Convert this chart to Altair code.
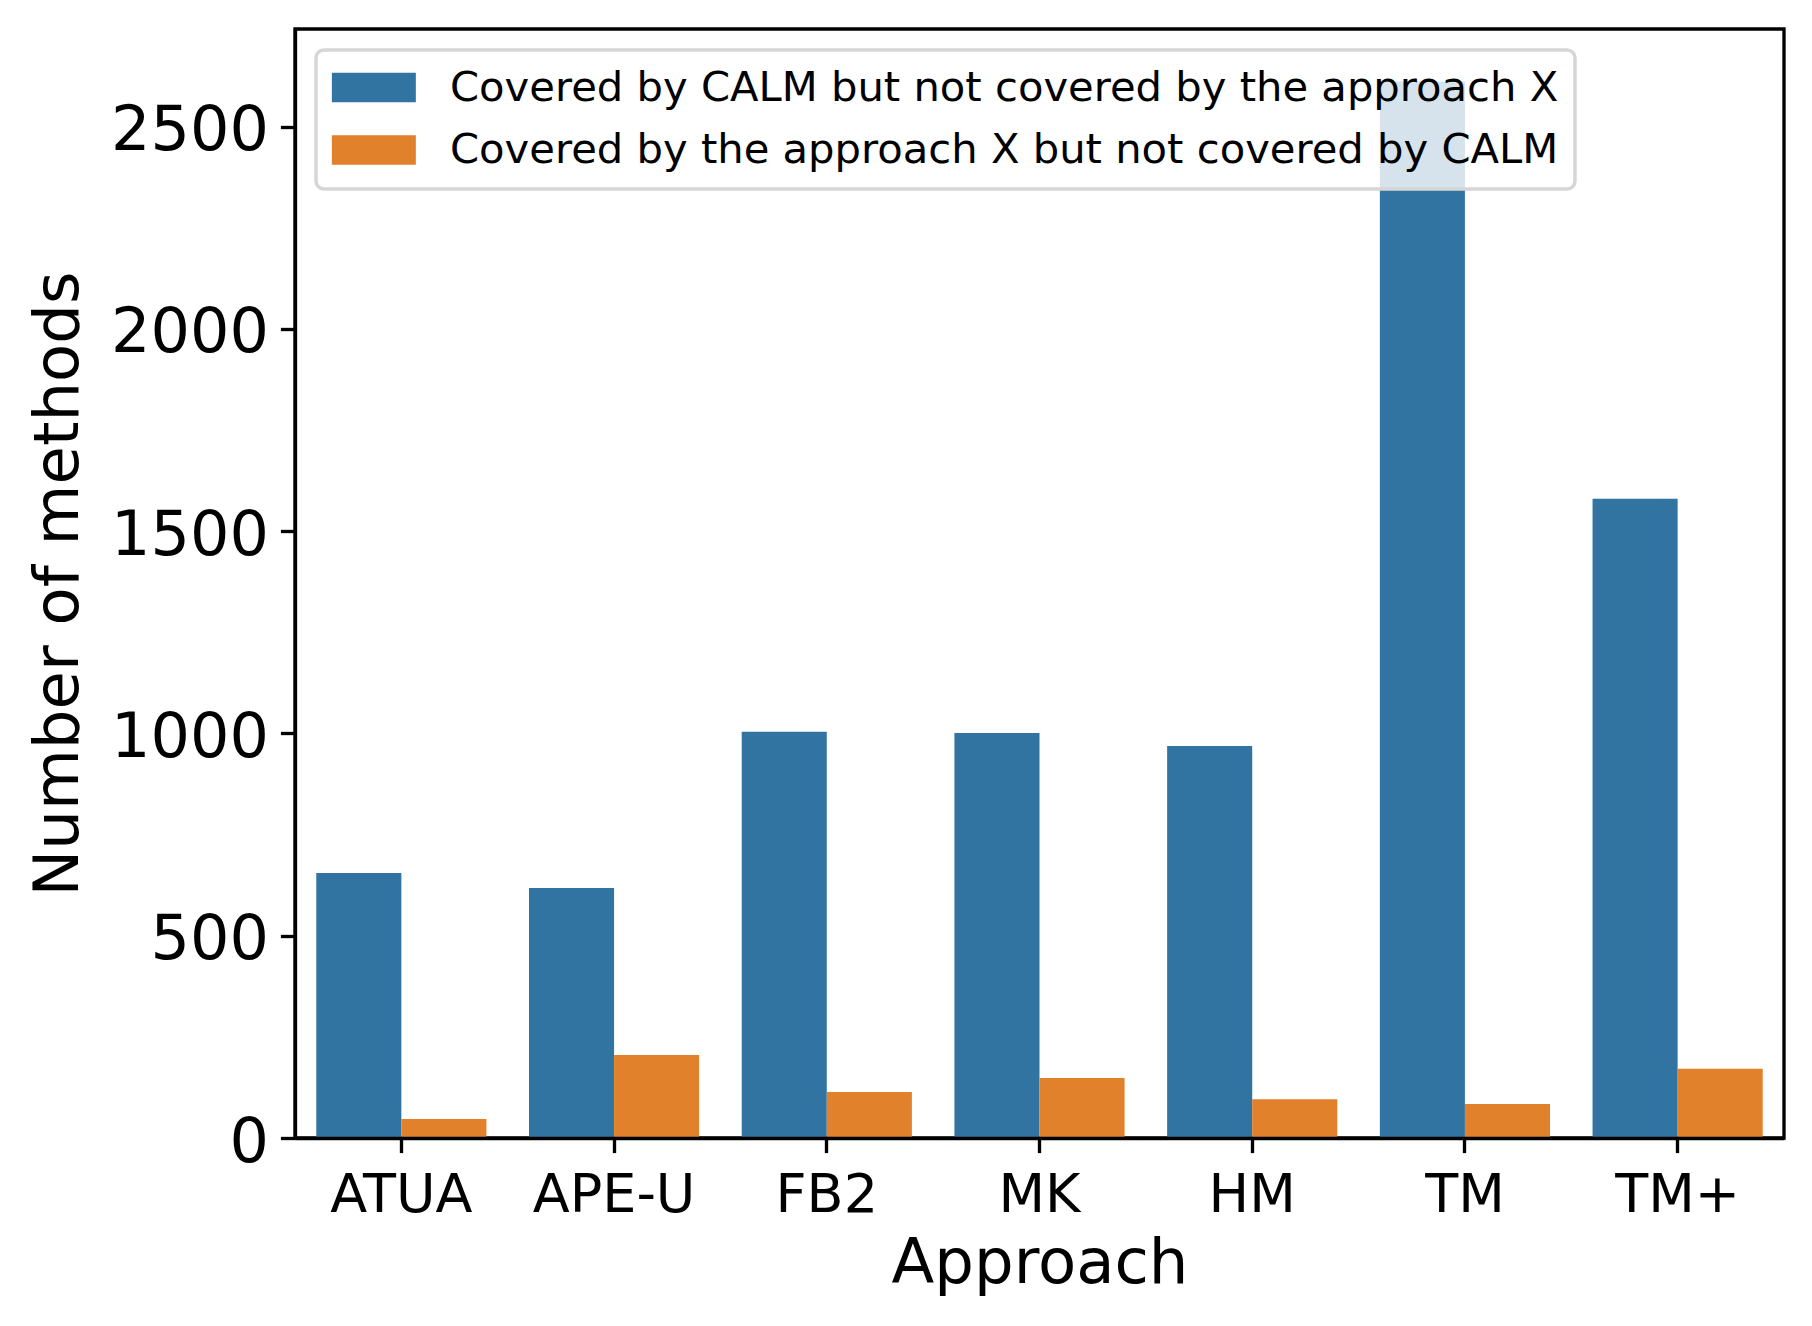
import altair as alt
import pandas as pd

# ---- data ----
approaches = ["ATUA", "APE-U", "FB2", "MK", "HM", "TM", "TM+"]
calm_not_x = [655, 618, 1004, 1001, 969, 2611, 1580]
x_not_calm = [47, 205, 114, 148, 96, 84, 171]
series = [
    "Covered by CALM but not covered by the approach X",
    "Covered by the approach X but not covered by CALM",
]
colors = ["#3274a1", "#e1812c"]
y_ticks = [0, 500, 1000, 1500, 2000, 2500]
y_max = 2741

rows = []
for a, v1, v2 in zip(approaches, calm_not_x, x_not_calm):
    rows.append({"Approach": a, "Series": series[0], "Value": v1})
    rows.append({"Approach": a, "Series": series[1], "Value": v2})
df = pd.DataFrame(rows)

FONT = "DejaVu Sans"
W, H = 1489, 1109
SPINE = 3.33

chart = (
    alt.Chart(df)
    .mark_bar()
    .encode(
        x=alt.X(
            "Approach:N",
            sort=approaches,
            title="Approach",
            scale=alt.Scale(paddingInner=0.2, paddingOuter=0.1),
            axis=alt.Axis(
                labelAngle=0,
                labelFont=FONT,
                titleFont=FONT,
                labelFontSize=54,
                titleFontSize=62.5,
                labelColor="black",
                titleColor="black",
                titleFontWeight="normal",
                tickSize=14.6,
                tickWidth=SPINE,
                tickColor="black",
                domainColor="black",
                domainWidth=SPINE,
                labelPadding=16,
                titlePadding=11,
                grid=False,
                zindex=1,
            ),
        ),
        xOffset=alt.XOffset(
            "Series:N",
            sort=series,
            scale=alt.Scale(paddingInner=0, paddingOuter=0),
        ),
        y=alt.Y(
            "Value:Q",
            title="Number of methods",
            scale=alt.Scale(domain=[0, y_max], nice=False, zero=True),
            axis=alt.Axis(
                values=y_ticks,
                format="d",
                labelFont=FONT,
                titleFont=FONT,
                labelFontSize=62,
                titleFontSize=62.5,
                labelColor="black",
                titleColor="black",
                titleFontWeight="normal",
                tickSize=14.6,
                tickWidth=SPINE,
                tickColor="black",
                domainColor="black",
                domainWidth=SPINE,
                labelPadding=12,
                titlePadding=20,
                labelOffset=4,
                grid=False,
                zindex=1,
            ),
        ),
        color=alt.Color(
            "Series:N",
            sort=series,
            scale=alt.Scale(domain=series, range=colors),
            legend=alt.Legend(
                title=None,
                orient="none",
                legendX=21,
                legendY=21,
                symbolType="M-1.476,-1L4.238,-1L4.238,1L-1.476,1Z",
                symbolSize=864,
                symbolStrokeWidth=0,
                symbolOpacity=1,
                labelFont=FONT,
                labelFontSize=41.7,
                labelColor="black",
                labelLimit=3000,
                labelOffset=75.6,
                rowPadding=19.5,
                padding=16.7,
                fillColor="rgba(255,255,255,0.8)",
                strokeColor="#d6d6d6",
                cornerRadius=8,
            ),
        ),
    )
    .properties(
        width=W,
        height=H,
        autosize=alt.AutoSizeParams(type="none"),
        padding={"left": 287, "top": 21, "right": 20, "bottom": 180},
    )
    .configure_view(stroke="black", strokeWidth=SPINE)
    .configure_legend(strokeWidth=3.5)
)

chart.save("out.html", embed_options={"renderer": "svg", "actions": False})
